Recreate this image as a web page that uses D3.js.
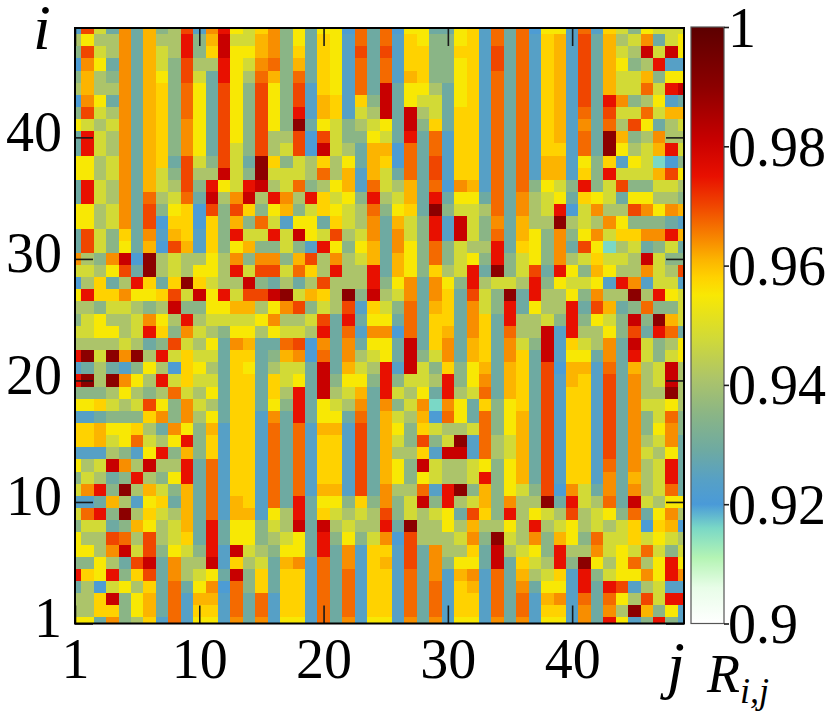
<!DOCTYPE html>
<html>
<head>
<meta charset="utf-8">
<script src="https://d3js.org/d3.v7.min.js"></script>
<style>
  body { margin: 0; background: #fff; }
  svg text { font-family: "Liberation Serif", "DejaVu Serif", serif; fill: #000; }
</style>
</head>
<body>
<div id="chart"></div>
<script>
// colour level codes used in the cell strings, and the R value each stands for
var levelCodes  = ["c", "0", "s", "1", "2", "3", "4", "5", "6", "7", "8", "p", "9", "R", "d", "D"];
var levelValues = [0.916, 0.921, 0.924, 0.929, 0.935, 0.941, 0.948, 0.955, 0.958, 0.961, 0.964, 0.967, 0.970, 0.975, 0.981, 0.990];

// rows from i = 49 (top) down to i = 0, columns j = 0..16
var colsLeft = [
  "s941817239s8R5468", "353381733R27d4478", "294381743R26d5578", "085181742933R548p",
  "273281752941R53p7", "373381762p5195295", "085181762p5195295", "294381762p5195295",
  "54348176285195295", "1R438176285195293", "1R438176285194293", "553481761942941D6",
  "553481742933d42D4", "1R438174392R54Rd3", "1R4381p34p1d38d3R", "55348192560929625",
  "553481906606272p4", "1942618s76s62R44R", "1942517097s625722", "8328d0D3433538288",
  "443591D343553R499", "03613R616D6433d21", "5R66855694d5R499d", "33244323d22557735",
  "245334853R3444458", "445534R6284325535", "33334312943518711", "RD4D8D3R464416612",
  "s131s253065316513", "RD3D853R464416616", "22235323p43516616", "55643495284316615",
  "ss1222682835166s8", "667556318527s66sp", "66745p435R26s66sp", "sss32s5R2726s66sp",
  "534d83d33R1ps66sp", "24312R325R1ps66sp", "48R2D374271ps66sp", "ss173s56171ps76sp",
  "4pR2D364371ps77s5", "24412753471R15524", "5339p393461R15523", "5538d492542Rsd432",
  "225319d1833ds6341", "R65R269183451d261", "13045361p1580p261", "336d2571ps77sp1ps",
  "33662571ps66sp1ps", "5518236sps55s818s"
];
// columns j = 17..32
var colsMid = [
  "251550p1p0551156", "25165sp1ps652256", "26165s919s662266", "27165sp1ps662256",
  "2p165sp1ps762256", "29s65sp1d1553156", "29s76s62d1544156", "2Rs76s43d1d34166",
  "2D15423451d26166", "3909422541R1ps66", "490d431770p1ps66", "2436351760p19s66",
  "443p37s741p19s66", "4p2357sp4371p087", "83R6452R3471R155", "7246543p2561D244",
  "s55164381742Rsd4", "4d5493481842Rsd4", "42sR52571852p243", "279383471752p245",
  "4p63R33R1752634R", "3139333R2581852R", "D4763D2d34818619", "892439s642p17618",
  "33491R1551p16618", "443R1ps880p16718", "p908181551d16817", "780p183451d24817",
  "441d1743Rsd42625", "451d2552R2443R25", "3R1d3471R4351R34", "2R1543818248c851",
  "1R1551p174370p51", "1ps77s9175264334", "1ps66s91742924Ds", "1ps66s917336sdds",
  "1ps66s91752d4334", "1ps66s9175254334", "1ps77s91833psRD2", "1R155262824d2R34",
  "3R16434392434519", "3d1d3433R1D33537", "451R252480933348", "551R18s66s918336",
  "78sp18s67s918255", "66sp1ps66sp18s78", "66sp1ps66sp1ps67", "66sp1ps66sp1ps66",
  "66sp1ps66sp1ps66", "55sp18s55s818s55"
];
// columns j = 33..49
var colsRight = [
  "sp1p055sps6425444", "sp1ps67s917348145", "s91ps67s91743d4d5", "s91ps67s917523Rss",
  "sp1ps67s917447255", "sp1ps67s91744p4Rd", "sp1ps67s91R8235s1", "sp1ps67sp1944p477",
  "sp1ps67s81p395134", "sp1ps67sp1D723833", "sp1ps66sp1D5347R4", "sp1ps77s526s54c02",
  "sp1ps77s62R444795", "sp1p2542R24922443", "1p183451654155332", "3p1834R0483398587",
  "281733D343852221s", "2p1752825846688R7", "3R16528195c341241", "2R24528346443d422",
  "1D2491R5275338439", "3443R25445sR8s44s", "42D1R3352833D3R54", "42R1533R19712p224",
  "61R3342R2542d2D74", "61p33dsR335291Rp1", "61842ds64381d4235", "61861ds55181R4245",
  "717619077sp1734d3", "817619s76s91834d3", "p17619s66s91833D3", "625619s66s9184453",
  "p25719s66s91824p2", "p25719s66s9182582", "p34719s66s9183481", "p34719s66s9184351",
  "525719s66sp1834R1", "R25719s66s81734R1", "725429084181834p1", "72833D1R43p1d4355",
  "62R354393452p1583", "3353R345343460670", "2D4382752p4464543", "1d3452R338454p424",
  "1d1643R2D535p35R5", "sp17346sR245585R8", "sp18155sR1R9s34ss", "sp1ps78sp1p5394RR",
  "sp1ps66s8183D725s", "s818s55s81R5s2R2s"
];

var xTicks = [0, 10, 20, 30, 40];
var xTickLabels = ["1", "10", "20", "30", "40"];
var yTicks = [0, 10, 20, 30, 40];
var yTickLabels = ["1", "10", "20", "30", "40"];
var cbarTicks = [0.9, 0.92, 0.94, 0.96, 0.98, 1];
var cbarTickLabels = ["0.9", "0.92", "0.94", "0.96", "0.98", "1"];

var cmapStops  = [0.900, 0.906, 0.911, 0.916, 0.920, 0.924, 0.929, 0.935, 0.941, 0.948,
                  0.955, 0.958, 0.961, 0.964, 0.967, 0.970, 0.975, 0.981, 0.990, 1.000];
var cmapColors = ["#ffffff", "#e8fde8", "#b4f4b4", "#7ad8c6", "#4a9ad8", "#56a0c6", "#6eaaa2", "#8ab586", "#acc46a", "#d2da36",
                  "#f8e804", "#ffd200", "#fcb400", "#f88e00", "#f46a00", "#f04600", "#e81000", "#c80000", "#8c0000", "#5c0000"];

var W = 832, H = 713;
var plotL = 75, plotR = 684, plotT = 28, plotB = 623.5;

var svg = d3.select("#chart").append("svg")
  .attr("width", W)
  .attr("height", H);

var x = d3.scaleLinear().domain([0, 49]).range([plotL, plotR]);
var y = d3.scaleLinear().domain([0, 49]).range([plotB, plotT]);
var color = d3.scaleLinear().domain(cmapStops).range(cmapColors).clamp(true);

var lookup = {};
levelCodes.forEach(function(c, k) { lookup[c] = levelValues[k]; });

var cells = [];
colsLeft.forEach(function(s, k) {
  var row = s + colsMid[k] + colsRight[k];
  var i = 49 - k;
  for (var j = 0; j < row.length; j++) {
    cells.push({i: i, j: j, v: lookup[row[j]]});
  }
});

svg.append("clipPath").attr("id", "plotclip")
  .append("rect")
    .attr("x", plotL).attr("y", plotT)
    .attr("width", plotR - plotL).attr("height", plotB - plotT);

var cw = x(1) - x(0), ch = y(0) - y(1);
svg.append("g")
  .attr("clip-path", "url(#plotclip)")
  .selectAll("rect")
  .data(cells)
  .join("rect")
    .attr("x", function(d) { return x(d.j - 0.5); })
    .attr("y", function(d) { return y(d.i + 0.5); })
    .attr("width", cw + 0.4)
    .attr("height", ch + 0.4)
    .attr("fill", function(d) { return color(d.v); })
    .attr("shape-rendering", "crispEdges");

// inward ticks on all four sides
function styleAxis(g) {
  g.select(".domain").remove();
  g.selectAll(".tick line").attr("stroke", "#1a1a1a").attr("stroke-width", 1.6);
  g.selectAll("text").style("font-size", "56px");
}

var xAxis = svg.append("g")
  .attr("transform", "translate(0," + plotB + ")")
  .call(d3.axisBottom(x).tickValues(xTicks)
    .tickFormat(function(d, k) { return xTickLabels[k]; })
    .tickSize(-18))
  .call(styleAxis);
xAxis.selectAll("text").attr("y", 54).attr("dy", null);

var yAxis = svg.append("g")
  .attr("transform", "translate(" + plotL + ",0)")
  .call(d3.axisLeft(y).tickValues(yTicks)
    .tickFormat(function(d, k) { return yTickLabels[k]; })
    .tickSize(-18))
  .call(styleAxis);
yAxis.selectAll("text").attr("x", -13).attr("y", 13).attr("dy", null);

svg.append("g")
  .attr("transform", "translate(0," + plotT + ")")
  .call(d3.axisTop(x).tickValues(xTicks).tickFormat("").tickSize(-18))
  .call(styleAxis);

svg.append("g")
  .attr("transform", "translate(" + plotR + ",0)")
  .call(d3.axisRight(y).tickValues(yTicks).tickFormat("").tickSize(-18))
  .call(styleAxis);

svg.append("rect")
  .attr("x", plotL).attr("y", plotT)
  .attr("width", plotR - plotL).attr("height", plotB - plotT)
  .attr("fill", "none")
  .attr("stroke", "#000")
  .attr("stroke-width", 2);

// colour bar
var cbX = 691, cbW = 33;
var cy = d3.scaleLinear().domain([0.9, 1]).range([plotB, 27]);

var grad = svg.append("defs").append("linearGradient")
  .attr("id", "cbgrad")
  .attr("x1", 0).attr("y1", 1).attr("x2", 0).attr("y2", 0);
grad.selectAll("stop")
  .data(cmapStops)
  .join("stop")
    .attr("offset", function(d) { return ((d - 0.9) / 0.1 * 100) + "%"; })
    .attr("stop-color", function(d, k) { return cmapColors[k]; });

svg.append("rect")
  .attr("x", cbX).attr("y", cy(1))
  .attr("width", cbW).attr("height", cy(0.9) - cy(1))
  .attr("fill", "url(#cbgrad)")
  .attr("stroke", "#555")
  .attr("stroke-width", 1.2);

var cAxis = svg.append("g")
  .attr("transform", "translate(" + (cbX + cbW) + ",0)")
  .call(d3.axisRight(cy).tickValues(cbarTicks)
    .tickFormat(function(d, k) { return cbarTickLabels[k]; })
    .tickSize(5).tickPadding(0))
  .call(styleAxis);
cAxis.selectAll("text").attr("x", 4).attr("y", 19).attr("dy", null);

// axis titles
svg.append("text")
  .attr("x", 42).attr("y", 49)
  .attr("text-anchor", "middle")
  .style("font-size", "64px").style("font-style", "italic")
  .text("i");

svg.append("text")
  .attr("x", 676).attr("y", 686)
  .attr("text-anchor", "middle")
  .style("font-size", "64px").style("font-style", "italic")
  .text("j");

var rLabel = svg.append("text")
  .attr("x", 707).attr("y", 692)
  .style("font-size", "54px").style("font-style", "italic");
rLabel.append("tspan").text("R");
rLabel.append("tspan").attr("dy", 11).style("font-size", "36px").text("i,j");
</script>
</body>
</html>
